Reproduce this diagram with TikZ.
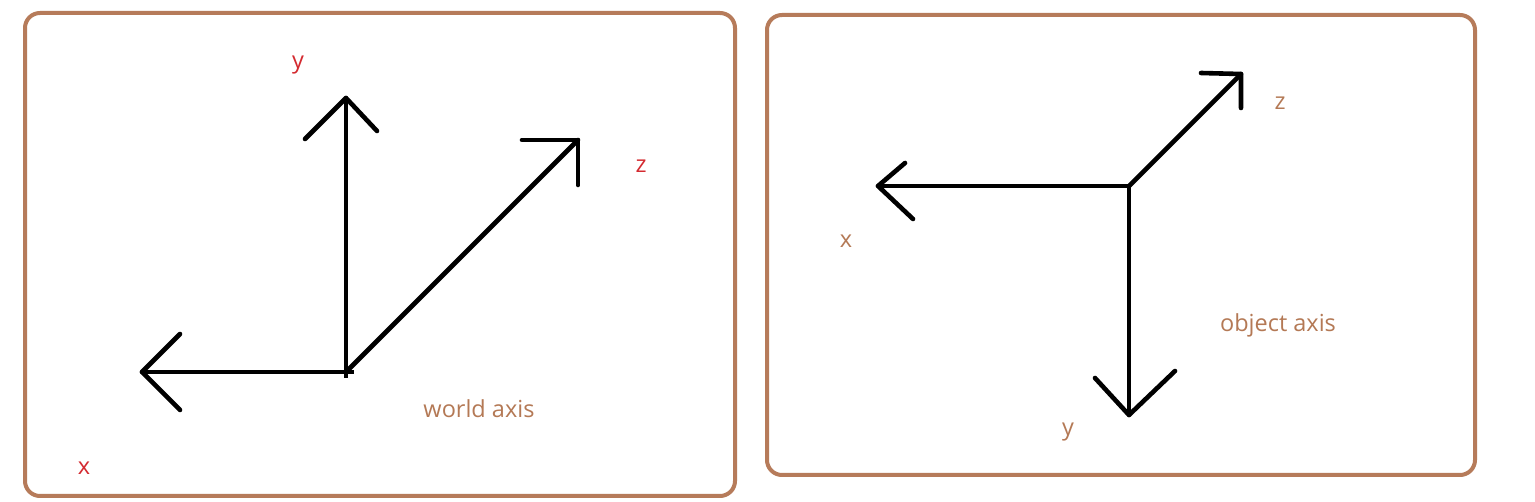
\documentclass[tikz,border=0pt]{standalone}
\usepackage{fontspec}
\setmainfont{Open Sans}
\definecolor{framebrown}{HTML}{B67B5A}
\definecolor{labelbrown}{HTML}{B47955}
\definecolor{labelred}{HTML}{D42A30}
\begin{document}
\begin{tikzpicture}[x=1pt,y=-1pt,
  frame/.style={draw=framebrown,line width=4pt,rounded corners=15pt},
  axis/.style={draw=black,line width=4.6pt,line cap=round,line join=round},
  redlbl/.style={text=labelred,font=\fontsize{23.5}{28}\selectfont,inner sep=0pt},
  brlbl/.style={text=labelbrown,font=\fontsize{23.5}{28}\selectfont,inner sep=0pt}]
\useasboundingbox (0,0) rectangle (1535,502);
\fill[white] (0,0) rectangle (1535,502);
% frames
\draw[frame] (25,13) rectangle (735,496);
\draw[frame] (767,15) rectangle (1475,475);
% left: world axis
\coordinate (wo) at (346,372);
\coordinate (wy) at (346,98);
\coordinate (wx) at (142,372);
\coordinate (wz) at (578,140);
\draw[axis] (wo) -- (wy);
\draw[axis] (wo) -- (wx);
\draw[axis] (wo) -- (wz);
\draw[axis] (305,139) -- (wy) -- (377,131);
\draw[axis] (180,334) -- (wx) -- (180,410);
\draw[axis] (522,140) -- (wz) -- (578,185);
\draw[line width=4.6pt] (346,366) -- (346,378);
\draw[line width=4.6pt] (340,372) -- (354,372);
\node[redlbl] (ly) at (298,65) {y};
\node[redlbl] (lz) at (641,166) {z};
\node[redlbl] (lx) at (84,468) {x};
\node[brlbl] (lw) at (479,409) {world axis};
% right: object axis
\coordinate (oo) at (1129,186);
\coordinate (ox) at (878,186);
\coordinate (oz) at (1241,74);
\coordinate (oy) at (1129,415);
\draw[axis] (oo) -- (ox);
\draw[axis] (oo) -- (oz);
\draw[axis] (oo) -- (oy);
\draw[axis] (905,163) -- (ox) -- (913,219);
\draw[axis] (1201,73) -- (oz) -- (1241,108);
\draw[axis] (1095,378) -- (oy) -- (1175,371);
\node[brlbl] (rz) at (1280,103) {z};
\node[brlbl] (rx) at (846,241) {x};
\node[brlbl] (ry) at (1068,432) {y};
\node[brlbl] (ro) at (1278,325) {object axis};
\end{tikzpicture}
\end{document}
